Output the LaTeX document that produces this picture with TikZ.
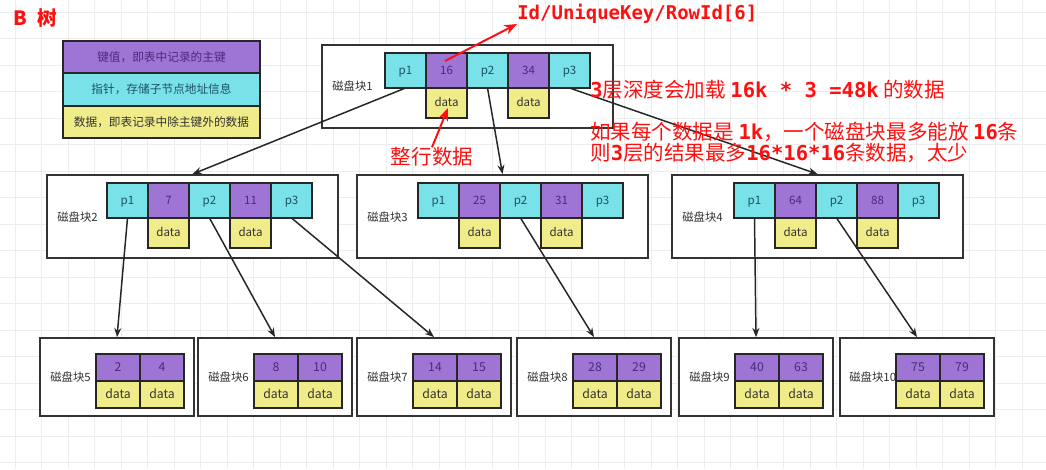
\documentclass[tikz,border=0pt]{standalone}
\usepackage{fontspec}
\newfontfamily\cjk{Noto Sans CJK SC}
\newfontfamily\codefont{DejaVu Sans Mono}
\usetikzlibrary{positioning,arrows.meta}

\definecolor{keypurple}{HTML}{9E74D4}
\definecolor{ptrcyan}{HTML}{78E2E8}
\definecolor{datayellow}{HTML}{F1EC8A}
\definecolor{keytext}{HTML}{4A2C7E}
\definecolor{ptrtext}{HTML}{1D4F6E}
\definecolor{datatext}{HTML}{333333}
\definecolor{notered}{HTML}{FF1010}

\begin{document}
\begin{tikzpicture}[
    x=0.025cm, y=-0.025cm,
    gridline/.style={draw=black!7, line width=0.4pt},
    block/.style={rectangle, draw=black!80, line width=1.3pt, fill=white, minimum width=7.275cm, minimum height=2.075cm, inner sep=0pt},
    leafblock/.style={block, minimum width=3.85cm, minimum height=1.95cm},
    cell/.style={rectangle, draw=black!85, line width=1.2pt, minimum width=1.025cm, minimum height=0.875cm, inner sep=0pt, outer sep=0pt, text height=1.5ex, text depth=0.3ex, font=\cjk\fontsize{8.2}{10}\selectfont},
    ptrcell/.style={cell, fill=ptrcyan, text=ptrtext},
    keycell/.style={cell, fill=keypurple, text=keytext},
    datacell/.style={cell, fill=datayellow, text=datatext, minimum height=0.75cm},
    leafkey/.style={keycell, minimum width=1.1cm, minimum height=0.675cm, font=\cjk\fontsize{8.7}{10}\selectfont},
    leafdata/.style={datacell, minimum width=1.1cm, minimum height=0.675cm, font=\cjk\fontsize{8.7}{10}\selectfont},
    blocklabel/.style={anchor=west, inner sep=0pt, text=black!80, font=\cjk\fontsize{8.1}{10}\selectfont},
    legendrow/.style={rectangle, draw=black!85, line width=1.3pt, minimum width=4.925cm, minimum height=0.8125cm, inner sep=0pt, outer sep=0pt, font=\cjk\fontsize{8.3}{10}\selectfont},
    arrow/.style={-{Stealth[length=6.5pt,width=5pt]}, line width=1.05pt, draw=black!85},
    redarrow/.style={-{Stealth[length=9pt,width=7pt]}, line width=1.4pt, draw=notered},
    note/.style={text=notered, inner sep=0pt, font=\cjk\fontsize{14.6}{13}\selectfont}
]

% background with grid
\useasboundingbox (0,0) rectangle (1046,469);
\fill[white] (0,0) rectangle (1046,469);
\foreach \gx in {15,41.5,...,1046} \draw[gridline] (\gx,0) -- (\gx,469);
\foreach \gy in {12,38.5,...,469} \draw[gridline] (0,\gy) -- (1046,\gy);

% title and legend
\node[note, anchor=west, font=\cjk\bfseries\fontsize{14}{16}\selectfont] (title) at (13,18) {B\hspace{0.55em}树};

\node[legendrow, fill=keypurple, text=keytext] (legkey) at (161.5,57) {键值，即表中记录的主键};
\node[legendrow, fill=ptrcyan, text=ptrtext, below=0pt of legkey] (legptr) {指针，存储子节点地址信息};
\node[legendrow, fill=datayellow, text=datatext, below=0pt of legptr] (legdata) {数据，即表记录中除主键外的数据};

% root block
\node[block] (b1) at (467.5,86.5) {};
\node[blocklabel] (b1label) at (332,86) {磁盘块1};
\node[ptrcell] (b1p1) at (405.5,70.5) {p1};
\node[keycell, right=0pt of b1p1] (b1k1) {16};
\node[ptrcell, right=0pt of b1k1] (b1p2) {p2};
\node[keycell, right=0pt of b1p2] (b1k2) {34};
\node[ptrcell, right=0pt of b1k2] (b1p3) {p3};
\node[datacell, below=0pt of b1k1] (b1d1) {data};
\node[datacell, below=0pt of b1k2] (b1d2) {data};

% second level
\node[block] (b2) at (192.5,216.5) {};
\node[blocklabel] (b2label) at (57,217) {磁盘块2};
\node[ptrcell] (b2p1) at (127.5,200.5) {p1};
\node[keycell, right=0pt of b2p1] (b2k1) {7};
\node[ptrcell, right=0pt of b2k1] (b2p2) {p2};
\node[keycell, right=0pt of b2p2] (b2k2) {11};
\node[ptrcell, right=0pt of b2k2] (b2p3) {p3};
\node[datacell, below=0pt of b2k1] (b2d1) {data};
\node[datacell, below=0pt of b2k2] (b2d2) {data};

\node[block] (b3) at (502.5,216.5) {};
\node[blocklabel] (b3label) at (367,217) {磁盘块3};
\node[ptrcell] (b3p1) at (438.5,200.5) {p1};
\node[keycell, right=0pt of b3p1] (b3k1) {25};
\node[ptrcell, right=0pt of b3k1] (b3p2) {p2};
\node[keycell, right=0pt of b3p2] (b3k2) {31};
\node[ptrcell, right=0pt of b3k2] (b3p3) {p3};
\node[datacell, below=0pt of b3k1] (b3d1) {data};
\node[datacell, below=0pt of b3k2] (b3d2) {data};

\node[block] (b4) at (817.5,216.5) {};
\node[blocklabel] (b4label) at (682,217) {磁盘块4};
\node[ptrcell] (b4p1) at (754.5,200.5) {p1};
\node[keycell, right=0pt of b4p1] (b4k1) {64};
\node[ptrcell, right=0pt of b4k1] (b4p2) {p2};
\node[keycell, right=0pt of b4p2] (b4k2) {88};
\node[ptrcell, right=0pt of b4k2] (b4p3) {p3};
\node[datacell, below=0pt of b4k1] (b4d1) {data};
\node[datacell, below=0pt of b4k2] (b4d2) {data};

% leaf blocks
\node[leafblock] (b5) at (117,377) {};
\node[blocklabel] (b5label) at (50,377) {磁盘块5};
\node[leafkey] (b5k1) at (118,367.5) {2};
\node[leafkey, right=0pt of b5k1] (b5k2) {4};
\node[leafdata, below=0pt of b5k1] (b5d1) {data};
\node[leafdata, below=0pt of b5k2] (b5d2) {data};

\node[leafblock] (b6) at (275,377) {};
\node[blocklabel] (b6label) at (208,377) {磁盘块6};
\node[leafkey] (b6k1) at (276,367.5) {8};
\node[leafkey, right=0pt of b6k1] (b6k2) {10};
\node[leafdata, below=0pt of b6k1] (b6d1) {data};
\node[leafdata, below=0pt of b6k2] (b6d2) {data};

\node[leafblock] (b7) at (434,377) {};
\node[blocklabel] (b7label) at (367,377) {磁盘块7};
\node[leafkey] (b7k1) at (435,367.5) {14};
\node[leafkey, right=0pt of b7k1] (b7k2) {15};
\node[leafdata, below=0pt of b7k1] (b7d1) {data};
\node[leafdata, below=0pt of b7k2] (b7d2) {data};

\node[leafblock] (b8) at (594,377) {};
\node[blocklabel] (b8label) at (527,377) {磁盘块8};
\node[leafkey] (b8k1) at (595,367.5) {28};
\node[leafkey, right=0pt of b8k1] (b8k2) {29};
\node[leafdata, below=0pt of b8k1] (b8d1) {data};
\node[leafdata, below=0pt of b8k2] (b8d2) {data};

\node[leafblock] (b9) at (756,377) {};
\node[blocklabel] (b9label) at (689,377) {磁盘块9};
\node[leafkey] (b9k1) at (757,367.5) {40};
\node[leafkey, right=0pt of b9k1] (b9k2) {63};
\node[leafdata, below=0pt of b9k1] (b9d1) {data};
\node[leafdata, below=0pt of b9k2] (b9d2) {data};

\node[leafblock] (b10) at (917,377) {};
\node[blocklabel] (b10label) at (849,377) {磁盘块10};
\node[leafkey] (b10k1) at (918,367.5) {75};
\node[leafkey, right=0pt of b10k1] (b10k2) {79};
\node[leafdata, below=0pt of b10k1] (b10d1) {data};
\node[leafdata, below=0pt of b10k2] (b10d2) {data};

% pointers
\draw[arrow] (b1p1.south) -- (b2.north);
\draw[arrow] (b1p2.south) -- (b3.north);
\draw[arrow] (b1p3.south) -- (b4.north);
\draw[arrow] (b2p1.south) -- (b5.north);
\draw[arrow] (b2p2.south) -- (b6.north);
\draw[arrow] (b2p3.south) -- (b7.north);
\draw[arrow] (b3p2.south) -- (b8.north);
\draw[arrow] (b4p1.south) -- (b9.north);
\draw[arrow] (b4p2.south) -- (b10.north);

% red annotations
\node[note, anchor=west, font=\codefont\bfseries\fontsize{13.5}{16}\selectfont] (idlabel) at (517,14) {Id/UniqueKey/RowId[6]};
\coordinate (idtail) at (445,61);
\draw[redarrow] (idtail) -- (idlabel.south west);

\node[note] (rowlabel) at (432,157) {整行数据};
\coordinate (rowtip) at (448,108);
\draw[redarrow] (rowlabel.north) -- (rowtip);

\node[note, anchor=west] (depthnote) at (590,90) {{\codefont\bfseries 3}层深度会加载 {\codefont\bfseries 16k * 3 =48k} 的数据};
\node[note, anchor=north west, align=left] (sizenote) at (590,122) {如果每个数据是 {\codefont\bfseries 1k}，一个磁盘块最多能放 {\codefont\bfseries 16}条\\则{\codefont\bfseries 3}层的结果最多{\codefont\bfseries 16*16*16}条数据，太少};

\end{tikzpicture}
\end{document}
